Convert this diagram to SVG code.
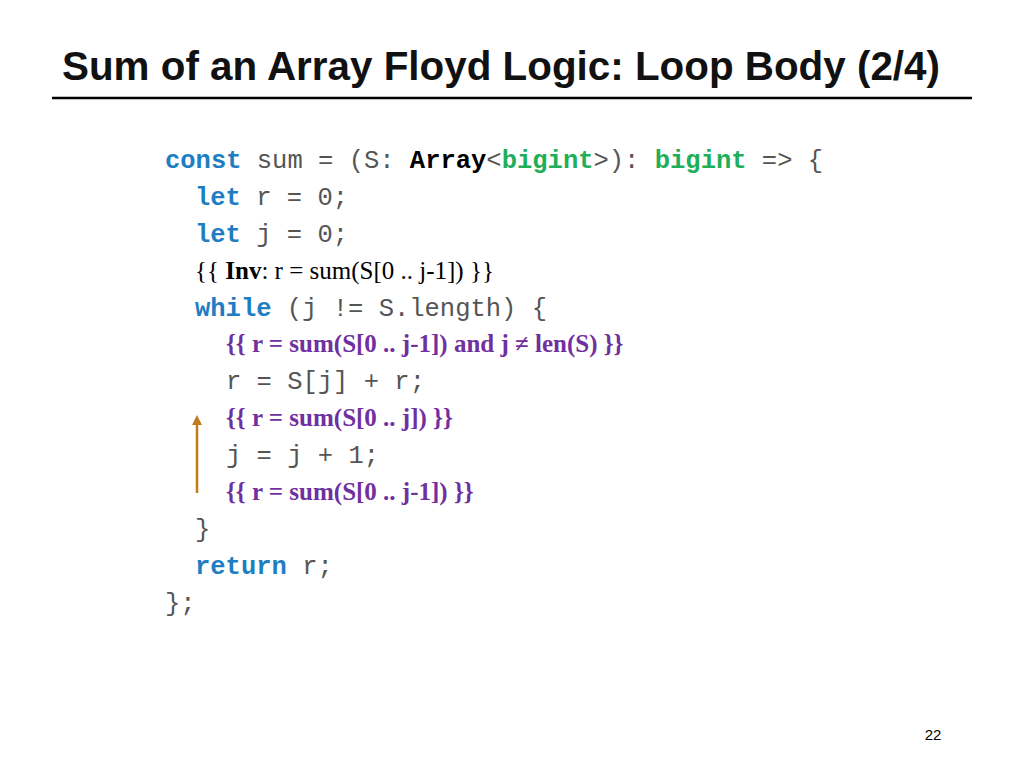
<svg xmlns="http://www.w3.org/2000/svg" width="1024" height="768" viewBox="0 0 1024 768">
<style>
.c{font-family:"Liberation Mono",monospace;font-size:25.5px;fill:#555}
.k{fill:#1F7EC2;font-weight:bold}
.g{fill:#1FAF5A;font-weight:bold}
.b{fill:#000;font-weight:bold}
.m{font-family:"Liberation Serif",serif;font-size:25px;fill:#000}
.p{fill:#7030A0;font-weight:bold}
</style>
<defs><marker id="ah" markerWidth="4" markerHeight="4" refX="2" refY="2" orient="auto"><path d="M0,0 L4,2 L0,4 z" fill="#C27B1C"/></marker></defs>
<rect width="1024" height="768" fill="#fff"/>
<text x="62" y="80" font-family="'Liberation Sans',sans-serif" font-size="40" font-weight="bold" fill="#111" textLength="878" lengthAdjust="spacingAndGlyphs">Sum of an Array Floyd Logic: Loop Body (2/4)</text>
<line x1="52" y1="98" x2="972" y2="98" stroke="#000" stroke-width="2.5"/>
<g id="code">
<text class="c" x="165" y="168"><tspan class="k">const</tspan> sum = (S: <tspan class="b">Array</tspan>&lt;<tspan class="g">bigint</tspan>&gt;): <tspan class="g">bigint</tspan> =&gt; {</text>
<text class="c" x="195" y="205"><tspan class="k">let</tspan> r = 0;</text>
<text class="c" x="195" y="242"><tspan class="k">let</tspan> j = 0;</text>
<text class="m" x="195" y="279">{{ <tspan font-weight="bold">Inv</tspan>: r = sum(S[0 .. j-1]) }}</text>
<text class="c" x="195" y="316"><tspan class="k">while</tspan> (j != S.length) {</text>
<text class="m p" x="226" y="352">{{ r = sum(S[0 .. j-1]) and j ≠ len(S) }}</text>
<text class="c" x="226" y="389">r = S[j] + r;</text>
<text class="m p" x="226" y="426">{{ r = sum(S[0 .. j]) }}</text>
<text class="c" x="226" y="463">j = j + 1;</text>
<text class="m p" x="226" y="500">{{ r = sum(S[0 .. j-1]) }}</text>
<text class="c" x="195" y="537">}</text>
<text class="c" x="195" y="574"><tspan class="k">return</tspan> r;</text>
<text class="c" x="165" y="611">};</text>
</g>
<g id="connectors">
<line x1="197" y1="493" x2="197" y2="420" stroke="#C27B1C" stroke-width="2.5" marker-end="url(#ah)"/>
</g>
<text x="933" y="740" font-family="'Liberation Sans',sans-serif" font-size="15" text-anchor="middle" fill="#000">22</text>
</svg>
